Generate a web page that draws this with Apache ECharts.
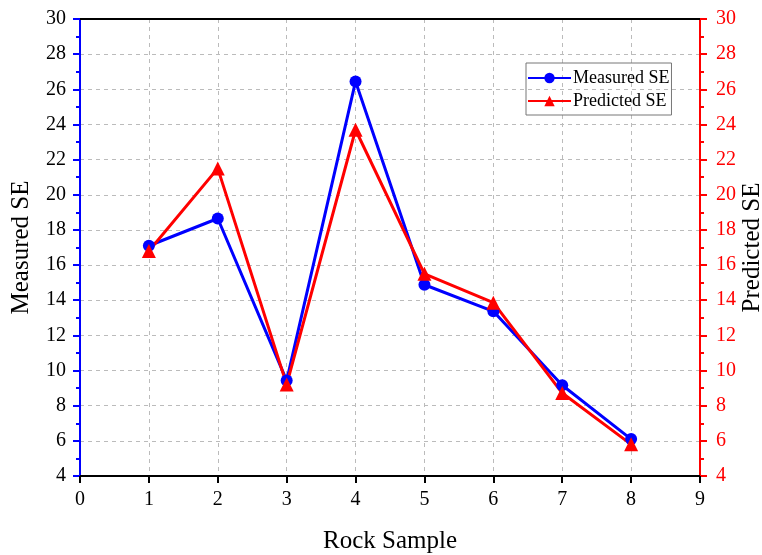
<!DOCTYPE html>
<html>
<head>
<meta charset="utf-8">
<script src="https://cdn.jsdelivr.net/npm/echarts@6/dist/echarts.min.js"></script>
<style>
  html, body { margin: 0; padding: 0; background: #fff; }
  #main { width: 762px; height: 555px; }
</style>
</head>
<body>
<div id="main"></div>
<script>
var samples = [1, 2, 3, 4, 5, 6, 7, 8];
var measuredSE = [17.1, 18.65, 9.43, 26.45, 14.88, 13.37, 9.16, 6.1];
var predictedSE = [16.8, 21.5, 9.2, 23.7, 15.5, 13.86, 8.72, 5.8];

var font = 'Liberation Serif';
var chart = echarts.init(document.getElementById('main'));

function pairs(vals) {
  return samples.map(function (s, i) { return [s, vals[i]]; });
}

var yCommon = {
  type: 'value',
  min: 4,
  max: 30,
  interval: 2,
  nameLocation: 'middle',
  nameMoveOverlap: false,
  nameTextStyle: { fontFamily: font, fontSize: 25, color: '#000' }
};

var option = {
  animation: false,
  grid: { left: 80, right: 62, top: 19, bottom: 79, outerBoundsMode: 'none', containLabel: false },
  legend: {
    orient: 'vertical',
    left: 526,
    top: 63,
    itemWidth: 43,
    itemHeight: 13,
    itemGap: 5,
    padding: [6, 2, 5, 1],
    borderColor: '#777',
    borderWidth: 1,
    textStyle: { fontFamily: font, fontSize: 18, color: '#000', padding: [0, 0, 0, -3] },
    data: ['Measured SE', 'Predicted SE']
  },
  xAxis: [{
    type: 'value',
    min: 0,
    max: 9,
    interval: 1,
    name: 'Rock Sample',
    nameLocation: 'middle',
    nameMoveOverlap: false,
    nameGap: 53,
    nameTextStyle: { fontFamily: font, fontSize: 25, color: '#000' },
    axisLine: { show: true, onZero: false, lineStyle: { color: '#000', width: 2 } },
    axisTick: { show: true, length: 7, lineStyle: { color: '#000', width: 2 } },
    axisLabel: { fontFamily: font, fontSize: 20, color: '#000', margin: 14 },
    splitLine: { show: true, lineStyle: { color: '#bbb', type: [4, 4], width: 1 } }
  }, {
    type: 'value',
    position: 'top',
    min: 0,
    max: 9,
    interval: 1,
    axisLine: { show: true, onZero: false, lineStyle: { color: '#000', width: 2 } },
    axisTick: { show: false },
    axisLabel: { show: false },
    splitLine: { show: false }
  }],
  yAxis: [
    Object.assign({}, yCommon, {
      position: 'left',
      name: 'Measured SE',
      nameGap: 46,
      axisLine: { show: true, onZero: false, lineStyle: { color: '#0000ff', width: 2 } },
      axisTick: { show: true, length: 7, lineStyle: { color: '#0000ff', width: 2 } },
      minorTick: { show: true, splitNumber: 2, length: 4, lineStyle: { color: '#0000ff', width: 2 } },
      axisLabel: { fontFamily: font, fontSize: 20, color: '#000', margin: 14 },
      splitLine: { show: true, lineStyle: { color: '#bbb', type: [4, 4], width: 1 } }
    }),
    Object.assign({}, yCommon, {
      position: 'right',
      name: 'Predicted SE',
      nameGap: 40,
      nameRotate: 90,
      axisLine: { show: true, onZero: false, lineStyle: { color: '#ff0000', width: 2 } },
      axisTick: { show: true, length: 7, lineStyle: { color: '#ff0000', width: 2 } },
      minorTick: { show: true, splitNumber: 2, length: 4, lineStyle: { color: '#ff0000', width: 2 } },
      axisLabel: { fontFamily: font, fontSize: 20, color: '#ff0000', margin: 16 },
      splitLine: { show: false }
    })
  ],
  series: [{
    name: 'Measured SE',
    type: 'line',
    yAxisIndex: 0,
    data: pairs(measuredSE),
    symbol: 'circle',
    symbolSize: 12,
    color: '#0000ff',
    lineStyle: { width: 3, color: '#0000ff' },
    itemStyle: { color: '#0000ff' }
  }, {
    name: 'Predicted SE',
    type: 'line',
    yAxisIndex: 1,
    data: pairs(predictedSE),
    symbol: 'triangle',
    symbolSize: 14,
    color: '#ff0000',
    lineStyle: { width: 3, color: '#ff0000' },
    itemStyle: { color: '#ff0000' }
  }]
};

chart.setOption(option);
</script>
</body>
</html>
